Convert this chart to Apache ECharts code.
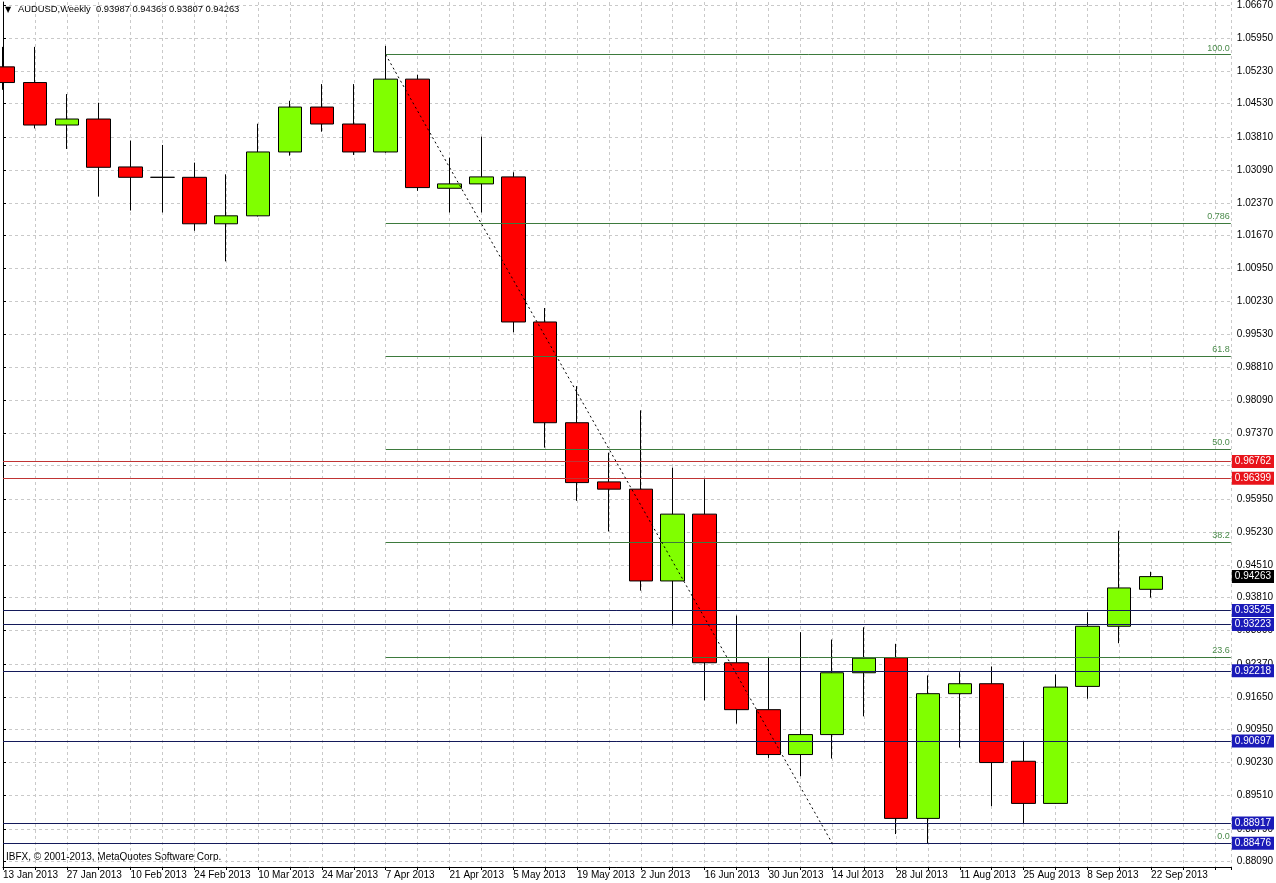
<!DOCTYPE html>
<html><head><meta charset="utf-8">
<script src="https://cdn.jsdelivr.net/npm/echarts@6/dist/echarts.min.js"></script>
<style>html,body{margin:0;padding:0;background:#fff}#c{width:1276px;height:883px}</style>
</head><body><div id="c"></div>
<script>
// ---------- data ----------
const weeks = ['13 Jan 2013','20 Jan 2013','27 Jan 2013','3 Feb 2013','10 Feb 2013','17 Feb 2013','24 Feb 2013',
  '3 Mar 2013','10 Mar 2013','17 Mar 2013','24 Mar 2013','31 Mar 2013','7 Apr 2013','14 Apr 2013','21 Apr 2013',
  '28 Apr 2013','5 May 2013','12 May 2013','19 May 2013','26 May 2013','2 Jun 2013','9 Jun 2013','16 Jun 2013',
  '23 Jun 2013','30 Jun 2013','7 Jul 2013','14 Jul 2013','21 Jul 2013','28 Jul 2013','4 Aug 2013','11 Aug 2013',
  '18 Aug 2013','25 Aug 2013','1 Sep 2013','8 Sep 2013','15 Sep 2013','22 Sep 2013'];
const openP  = [1.05327,1.04987,1.04065,1.04195,1.03155,1.02930,1.02930,1.01921,1.02094,1.03480,1.04455,1.04087,1.03480,
  1.05061,1.02692,1.02787,1.02939,0.99790,0.97603,0.96319,0.96161,0.94169,0.95619,0.92393,0.91375,0.90401,0.90834,
  0.92176,0.92501,0.89015,0.91722,0.91938,0.90255,0.89340,0.91880,0.93185,0.93987];
const closeP = [1.04987,1.04065,1.04195,1.03147,1.02930,1.02930,1.01921,1.02094,1.03480,1.04455,1.04087,1.03480,1.05061,
  1.02707,1.02787,1.02939,0.99790,0.97603,0.96304,0.96161,0.94169,0.95619,0.92393,0.91375,0.90401,0.90834,0.92176,
  0.92493,0.89015,0.91722,0.91938,0.90227,0.89340,0.91865,0.93185,0.94017,0.94263];
const lowP   = [1.04829,1.03991,1.03545,1.02512,1.02209,1.02166,1.01770,1.01105,1.02079,1.03400,1.03920,1.03415,1.03465,
  1.02636,1.02166,1.02166,0.99567,0.97062,0.95908,0.95243,0.93959,0.93201,0.91577,0.91072,0.90327,0.89931,0.90314,
  0.91230,0.88675,0.88476,0.90552,0.89281,0.88891,0.89330,0.91613,0.92817,0.93807];
const highP  = [1.05761,1.05761,1.04736,1.04548,1.03725,1.03632,1.03249,1.02995,1.04093,1.04591,1.04953,1.04953,1.05782,
  1.05154,1.03357,1.03812,1.03039,1.00093,0.98398,0.96953,0.97872,0.96629,0.96377,0.93417,0.92501,0.93057,0.92897,
  0.93164,0.92804,0.92118,0.92189,0.92313,0.90688,0.92139,0.93489,0.95258,0.94368];
const yTicks = [1.06670,1.05950,1.05230,1.04530,1.03810,1.03090,1.02370,1.01670,1.00950,1.00230,0.99530,0.98810,
  0.98090,0.97370,0.96670,0.95950,0.95230,0.94510,0.93810,0.93090,0.92370,0.91650,0.90950,0.90230,0.89510,0.88790,0.88090];
const redLevels  = [0.96762, 0.96399];
const blueLevels = [0.93525, 0.93223, 0.92218, 0.90697, 0.88917, 0.88476];
const lastPrice  = 0.94263;
const fibNames   = ['100.0','0.786','61.8','50.0','38.2','23.6','0.0'];
const fibLevels  = [1.05592, 1.01930, 0.99054, 0.97034, 0.95015, 0.92515, 0.88476];
const fibStartWeek = 12;
const trendStart = [12, 1.05592];
const trendEnd   = [26, 0.88476];
const titleText = 'AUDUSD,Weekly  0.93987 0.94368 0.93807 0.94263';
const copyText  = 'IBFX, \u00a9 2001-2013, MetaQuotes Software Corp.';

// ---------- layout / style ----------
const FONT = '"Liberation Sans", Arial, sans-serif';
const X_MIN = 0, X_MAX = 38.5;
const Y_MIN = 0.87960, Y_MAX = 1.06735;
const gridDash = {color: '#c9c9c9', type: [3, 3], width: 1};

const candles = weeks.map((w, i) => [i, openP[i], closeP[i], lowP[i], highP[i]]);

function boxLabel(v, bg) {
  return {
    show: true, position: 'end', distance: 1, formatter: v.toFixed(5),
    backgroundColor: bg, color: '#fff', fontFamily: FONT, fontSize: 10,
    padding: [2, 3, 1, 3], opacity: 1
  };
}
function hLine(v, lineStyle, label) {
  return [{coord: [X_MIN, v], lineStyle: lineStyle, label: label}, {coord: [X_MAX, v]}];
}
const markData = [];
fibLevels.forEach((v, k) => markData.push([
  {coord: [fibStartWeek, v], lineStyle: {color: '#3d7a3d', width: 1, type: 'solid'},
   label: {show: true, position: 'insideEndTop', formatter: fibNames[k], color: '#4a8a4a', fontFamily: FONT, fontSize: 9, distance: [1, 2]}},
  {coord: [X_MAX, v]}
]));
redLevels.forEach(v => markData.push(hLine(v, {color: '#c03434', width: 1, type: 'solid'}, boxLabel(v, '#e8141b'))));
blueLevels.forEach(v => markData.push(hLine(v, {color: '#141a5a', width: 1, type: 'solid'}, boxLabel(v, '#1a1ab8'))));
markData.push(hLine(lastPrice, {color: 'rgba(0,0,0,0)', width: 0}, boxLabel(lastPrice, '#000')));
markData.push([
  {coord: trendStart, lineStyle: {color: '#000', width: 1, type: [2, 3]}, label: {show: false}},
  {coord: trendEnd}
]);

const chart = echarts.init(document.getElementById('c'), null, {renderer: 'canvas'});
chart.setOption({
  animation: false,
  backgroundColor: '#fff',
  grid: {left: 3, right: 43, top: 0, bottom: 16, containLabel: false},
  xAxis: {
    type: 'value', min: X_MIN, max: X_MAX, interval: 1,
    axisLine: {show: true, lineStyle: {color: '#000', width: 1}},
    axisTick: {show: true, length: 3, lineStyle: {color: '#000'}},
    splitLine: {show: true, lineStyle: gridDash},
    axisLabel: {
      show: true, align: 'left', margin: 3, color: '#000', fontFamily: FONT, fontSize: 10,
      formatter: v => (Number.isInteger(v) && v % 2 === 0 && v < weeks.length) ? weeks[v] : ''
    }
  },
  yAxis: {
    type: 'value', position: 'right', min: Y_MIN, max: Y_MAX, scale: true,
    axisLine: {show: true, lineStyle: {color: '#000', width: 1}},
    axisTick: {show: true, length: 3, inside: false, customValues: yTicks, lineStyle: {color: '#000'}},
    splitLine: {show: true, lineStyle: gridDash},
    axisLabel: {
      show: true, customValues: yTicks, margin: 6, color: '#000', fontFamily: FONT, fontSize: 10,
      formatter: v => v.toFixed(5)
    }
  },
  graphic: [
    {type: 'text', left: 5, top: 6, style: {text: '\u25bc', fontSize: 8, fill: '#000', fontFamily: 'DejaVu Sans'}},
    {type: 'text', left: 18, top: 5, style: {text: titleText, fontSize: 9.4, fill: '#000', fontFamily: FONT}},
    {type: 'text', left: 6, top: 852, style: {text: copyText, fontSize: 10, fill: '#000', fontFamily: FONT}}
  ],
  series: [{
    type: 'candlestick',
    data: candles,
    encode: {x: 0, y: [1, 2, 3, 4]},
    barWidth: 24,
    itemStyle: {
      color: '#80ff00', color0: '#ff0000',
      borderColor: '#000', borderColor0: '#000', borderColorDoji: '#000', borderWidth: 1
    },
    markLine: {
      silent: true, symbol: ['none', 'none'], animation: false, precision: 5,
      data: markData
    }
  }]
});
</script></body></html>
